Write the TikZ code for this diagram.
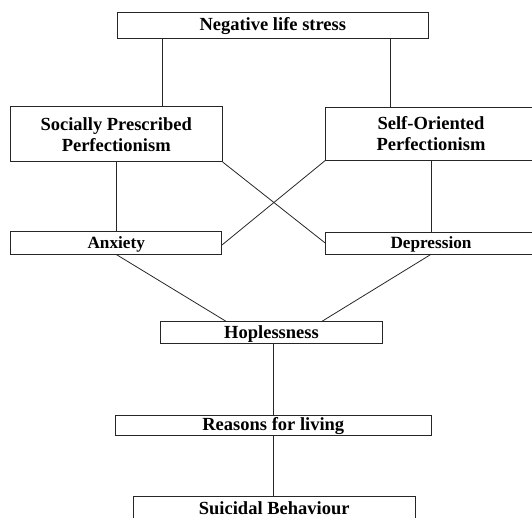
\documentclass[tikz,border=0pt]{standalone}
\usepackage{fontspec}
\setmainfont{Liberation Serif}
\begin{document}
\begin{tikzpicture}[x=1pt,y=-1pt,
  box/.style={draw=black!85, line width=0.8pt, rectangle, inner sep=0pt, align=center,
    font=\fontsize{18.5}{21}\selectfont\bfseries},
  onel/.style={box, text height=13.5pt, text depth=2pt},
  smallf/.style={font=\fontsize{17.2}{20}\selectfont\bfseries},
  link/.style={draw=black!85, line width=0.8pt}]
\useasboundingbox (0,0) rectangle (532,518);
\node[onel, minimum width=311.6pt, minimum height=26pt] (nls) at (272.8,25.25) {Negative life stress};
\node[box, minimum width=212.3pt, minimum height=55pt] (spp) at (116.2,134.2) {Socially Prescribed\\Perfectionism};
\node[box, minimum width=210.6pt, minimum height=52.7pt] (sop) at (431,133.7) {Self-Oriented\\Perfectionism};
\node[onel, smallf, minimum width=211pt, minimum height=22.3pt] (anx) at (116.2,242.9) {Anxiety};
\node[onel, smallf, minimum width=210.6pt, minimum height=21.7pt] (dep) at (431,243.1) {Depression};
\node[onel, minimum width=221.6pt, minimum height=21.6pt] (hop) at (271.5,332.5) {Hoplessness};
\node[onel, minimum width=316.7pt, minimum height=20pt] (rea) at (273.3,425) {Reasons for living};
\node[onel, minimum width=281.7pt, minimum height=24pt] (sui) at (274.2,508.7) {Suicidal Behaviour};
\coordinate (xl) at (162,0);
\coordinate (xr) at (390,0);
\coordinate (hl) at (226,0);
\coordinate (hr) at (322,0);
\coordinate (ax) at (273,0);
\draw[link] (nls.south -| xl) -- (spp.north -| xl);
\draw[link] (nls.south -| xr) -- (sop.north -| xr);
\draw[link] (spp.south) -- (anx.north);
\draw[link] (sop.south) -- (dep.north);
\draw[link] (spp.south east) -- (dep.west);
\draw[link] (sop.south west) -- ([yshift=-2pt]anx.east);
\draw[link] (anx.south) -- (hop.north -| hl);
\draw[link] (dep.south) -- (hop.north -| hr);
\draw[link] (hop.south -| ax) -- (rea.north -| ax);
\draw[link] (rea.south -| ax) -- (sui.north -| ax);
\end{tikzpicture}
\end{document}
